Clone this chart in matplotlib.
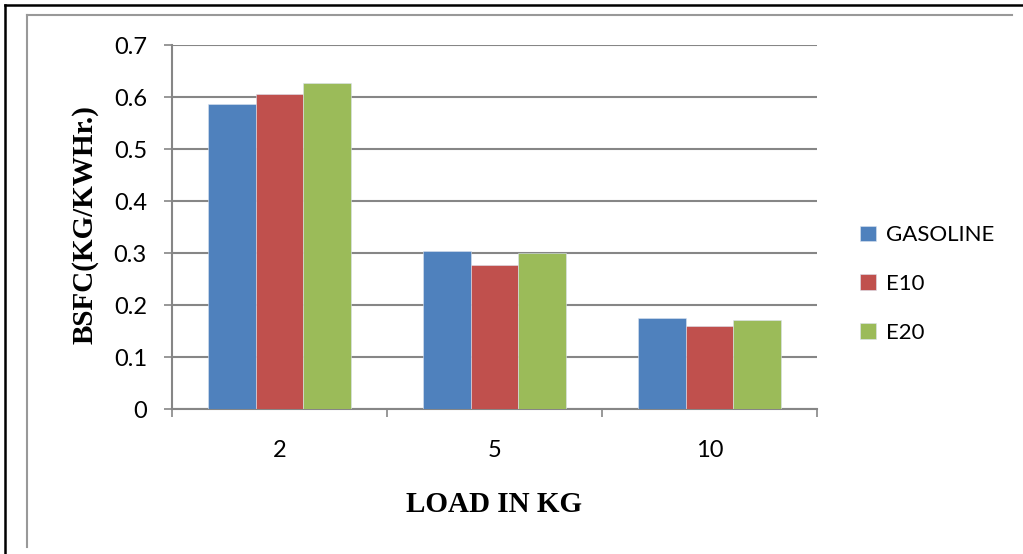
import numpy as np
import matplotlib
matplotlib.use('Agg')
import matplotlib.pyplot as plt
from matplotlib.lines import Line2D

# 负荷 (kg) 与各燃料的制动比油耗
loads = ['2', '5', '10']
fuels = ['GASOLINE', 'E10', 'E20']
bsfc_gasoline = [0.587, 0.304, 0.175]
bsfc_e10 = [0.606, 0.276, 0.160]
bsfc_e20 = [0.626, 0.300, 0.172]
colors = ['#4F81BD', '#C0504D', '#9BBB59']
yticks = [0, 0.1, 0.2, 0.3, 0.4, 0.5, 0.6, 0.7]

W, H = 1023, 554
fig = plt.figure(figsize=(W / 100, H / 100), dpi=100)
ax = fig.add_axes([172 / W, 1 - 409 / H, (817 - 172) / W, (409 - 45) / H])

x = np.arange(len(loads))
bw = 0.223
series = [bsfc_gasoline, bsfc_e10, bsfc_e20]
for i, (vals, name, c) in enumerate(zip(series, fuels, colors)):
    ax.bar(x + (i - 1) * bw, vals, bw, color=c, label=name,
           edgecolor='#dbe3f0', linewidth=0.4, zorder=3)

ax.set_xlim(-0.5, 2.5)
ax.set_ylim(0, 0.7)
ax.set_yticks(yticks)
ax.set_yticklabels(['0' if v == 0 else f'{v:.1f}' for v in yticks],
                   family='Lato', fontsize=17)
ax.set_xticks(x)
ax.set_xticklabels(loads, family='Lato', fontsize=17)
ax.tick_params(axis='x', length=0, pad=22)
ax.tick_params(axis='y', length=6, width=1.2, color='#868686', pad=12)
# 类别分隔刻度
ax.set_xticks([-0.5, 0.5, 1.5, 2.5], minor=True)
ax.tick_params(axis='x', which='minor', length=6, width=1.2,
               color='#868686', direction='out')

ax.grid(axis='y', color='#868686', linewidth=1.5, zorder=0)
for s in ['top', 'right']:
    ax.spines[s].set_visible(False)
for s in ['left', 'bottom']:
    ax.spines[s].set_color('#868686')
    ax.spines[s].set_linewidth(1.5)

fig.text(85 / W, 1 - 225 / H, 'BSFC(KG/KWHr.)', rotation=90,
         ha='center', va='center', family='Liberation Serif',
         fontweight='bold', fontsize=21)
fig.text(494 / W, 1 - 505 / H, 'LOAD IN KG', ha='center', va='center',
         family='Liberation Serif', fontweight='bold', fontsize=21)

fig.legend(loc='center left', bbox_to_anchor=(840 / W, 1 - 284 / H),
           frameon=False, prop={'family': 'Lato', 'size': 16},
           handlelength=0.7, handleheight=0.7, handletextpad=0.45,
           labelspacing=1.3)

# 外框线
fig.add_artist(Line2D([5 / W, 5 / W], [0, 1 - 5 / H], color='black', lw=1.8))
fig.add_artist(Line2D([5 / W, 1], [1 - 5 / H, 1 - 5 / H], color='black', lw=1.8))
fig.add_artist(Line2D([27 / W, 27 / W], [1 - 547 / H, 1 - 15 / H],
                      color='#999999', lw=1.5))
fig.add_artist(Line2D([27 / W, 1012 / W], [1 - 15 / H, 1 - 15 / H],
                      color='#999999', lw=1.5))

fig.savefig('out.png', dpi=100)
